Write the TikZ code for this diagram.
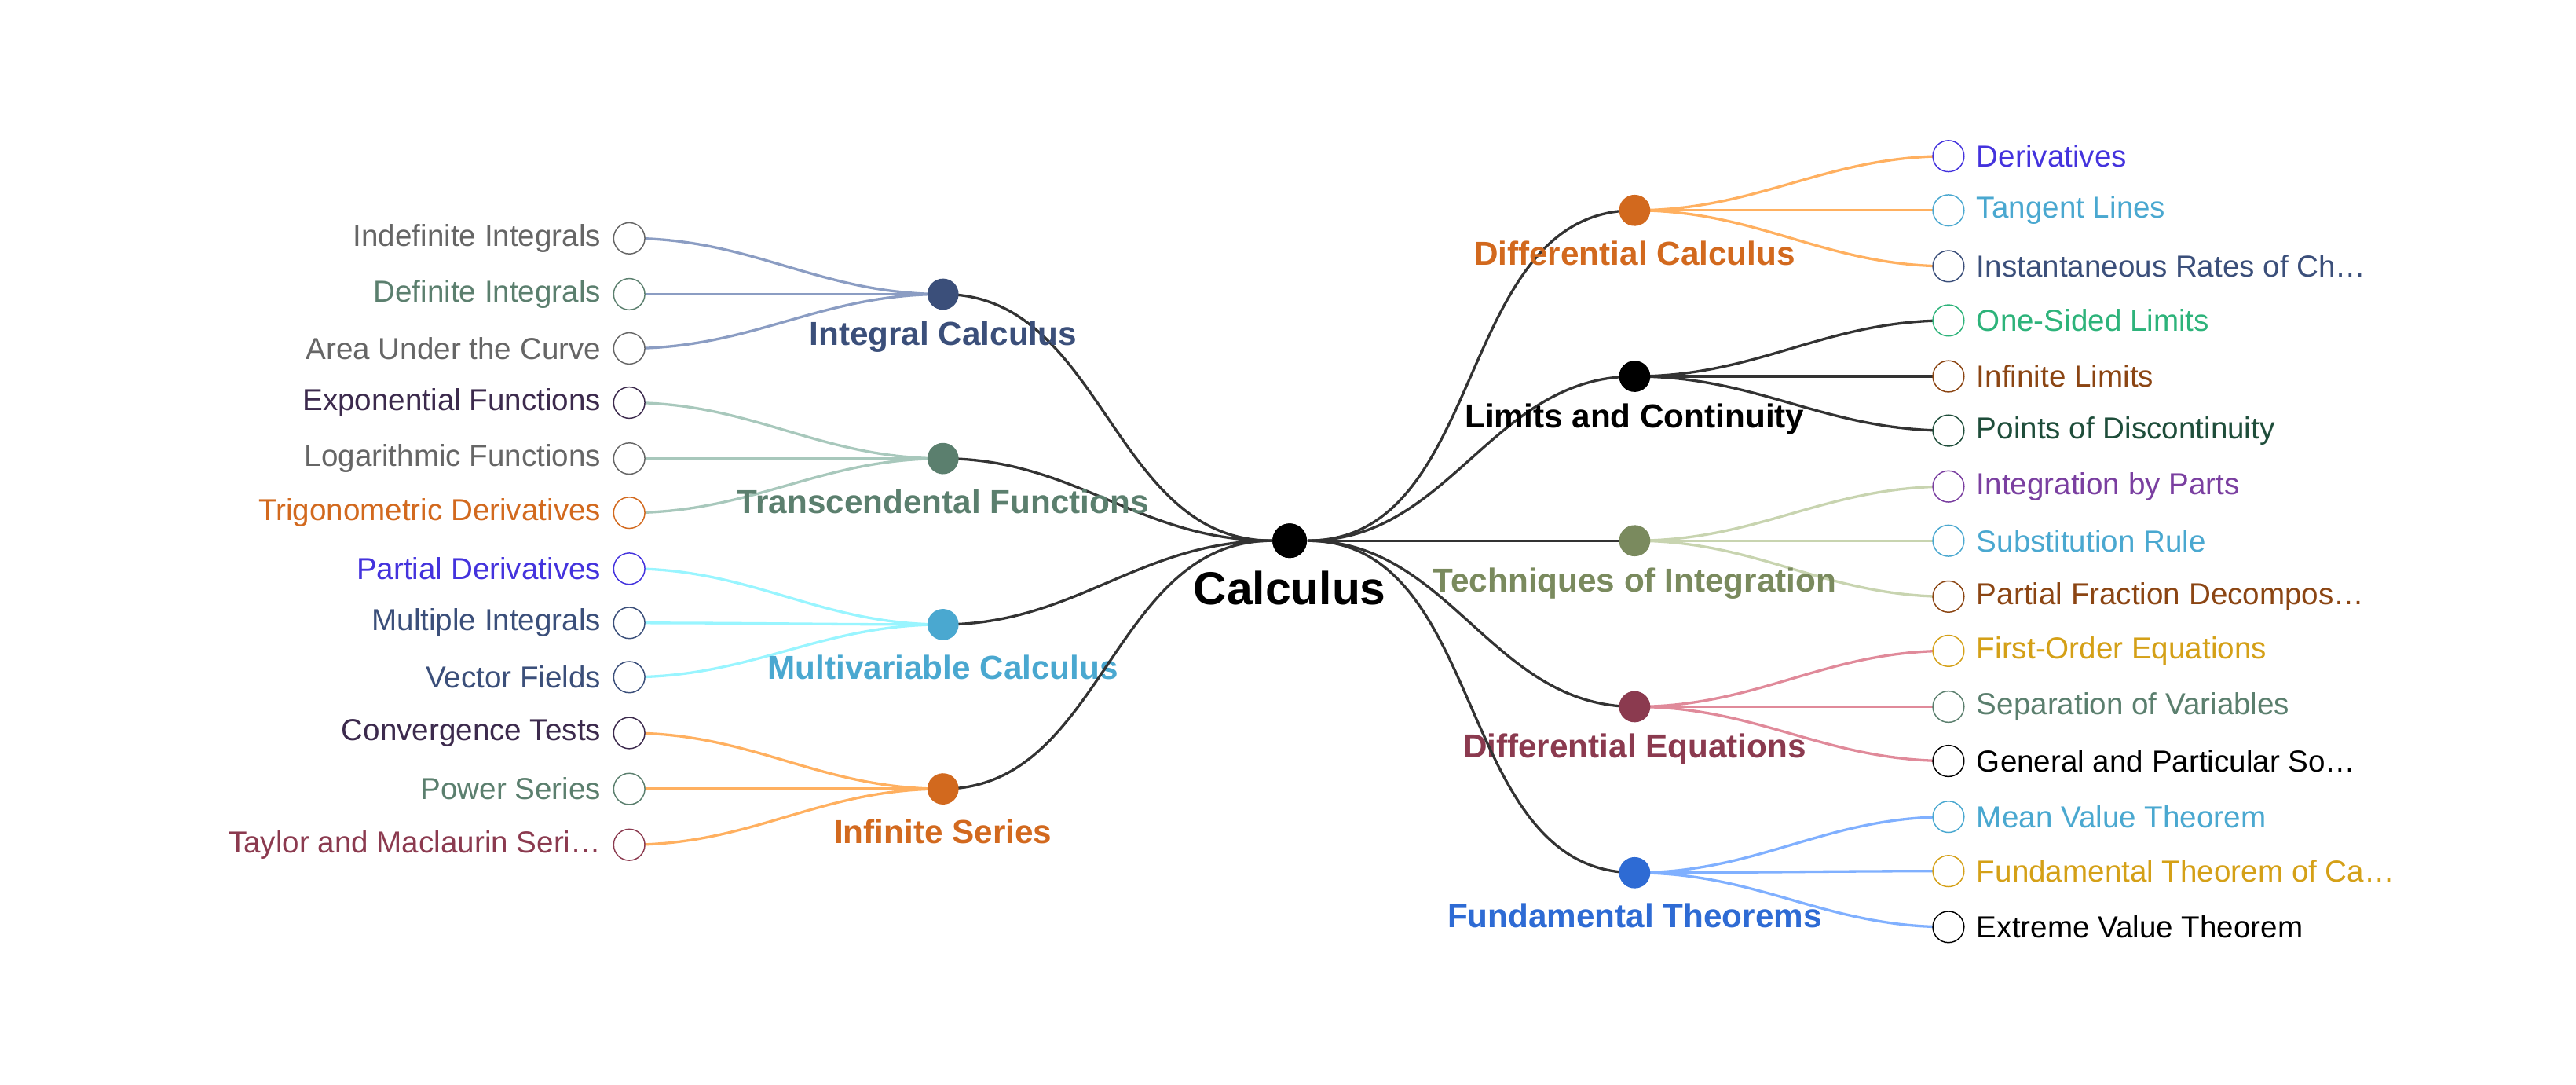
\documentclass[tikz,border=0pt]{standalone}
\usepackage{fontspec}
\setmainfont{Liberation Sans}
\usepackage{xcolor}
\usetikzlibrary{positioning}
\definecolor{cgray}{HTML}{666666}
\definecolor{cnavy}{HTML}{3B4F7A}
\definecolor{csage}{HTML}{5B7F6E}
\definecolor{cplum}{HTML}{3C2A4D}
\definecolor{corange}{HTML}{D2691E}
\definecolor{cindigo}{HTML}{4433DD}
\definecolor{csky}{HTML}{4AA8D0}
\definecolor{cwine}{HTML}{8B3A4F}
\definecolor{cgreen}{HTML}{2DB37A}
\definecolor{cbrown}{HTML}{8B4513}
\definecolor{cforest}{HTML}{1E4D3A}
\definecolor{colive}{HTML}{7A8A5E}
\definecolor{cpurple}{HTML}{7A3FA0}
\definecolor{cgold}{HTML}{D4A017}
\definecolor{cblue}{HTML}{2E6BD4}
\definecolor{eintegral}{HTML}{8B9DC3}
\definecolor{etrans}{HTML}{A8C8BC}
\definecolor{emulti}{HTML}{99F5FF}
\definecolor{eorange}{HTML}{FFB060}
\definecolor{edark}{HTML}{333333}
\definecolor{eolive}{HTML}{C8D4B0}
\definecolor{ewine}{HTML}{E08A9A}
\definecolor{eblue}{HTML}{80B0FF}

\begin{document}
\begin{tikzpicture}[
        x=0.02cm, y=-0.02cm,
        hub/.style={circle, inner sep=0pt, minimum size=0.38cm},
        leaf/.style={circle, draw, fill=white, inner sep=0pt, minimum size=0.38cm},
        branchlabel/.style={font=\bfseries\fontsize{11.5}{13}\selectfont},
        leaflabel/.style={font=\fontsize{10.5}{12}\selectfont, inner sep=2pt},
        link/.style={line width=0.9pt}
    ]
    \useasboundingbox (0,0) rectangle (1568,660);

    % root
    \node[hub, fill=black, minimum size=0.42cm] (root) at (785,329) {};
    \node[font=\bfseries\fontsize{16}{18}\selectfont] at (785,358) {Calculus};

    % left side
    \foreach \Hub/\Y/\Node/\Edge/\Text/\Leaves in {
        integral/179/cnavy/eintegral/Integral Calculus/{145/cgray/Indefinite Integrals, 179/csage/Definite Integrals, 212/cgray/Area Under the Curve},
        trans/279/csage/etrans/Transcendental Functions/{245/cplum/Exponential Functions, 279/cgray/Logarithmic Functions, 312/corange/Trigonometric Derivatives},
        multi/380/csky/emulti/Multivariable Calculus/{346/cindigo/Partial Derivatives, 379/cnavy/Multiple Integrals, 412/cnavy/Vector Fields},
        series/480/corange/eorange/Infinite Series/{446/cplum/Convergence Tests, 480/csage/Power Series, 514/cwine/Taylor and Maclaurin Seri…}}
    {
        \draw[link, edark] (root) to[out=180, in=0] (574,\Y);
        \foreach \Ly/\Col/\Lab in \Leaves {
            \draw[link, \Edge] (574,\Y) to[out=180, in=0] (383,\Ly);
            \node[leaf, draw=\Col] (\Hub-\Ly) at (383,\Ly) {};
            \node[leaflabel, text=\Col, left=2pt of \Hub-\Ly] {\Lab};
        }
        \node[hub, fill=\Node] (\Hub) at (574,\Y) {};
        \node[branchlabel, text=\Node] at (574,\Y+26) {\Text};
    }

    % right side
    \foreach \Hub/\Y/\Node/\Edge/\Text/\Leaves in {
        diffcalc/128/corange/eorange/Differential Calculus/{95/cindigo/Derivatives, 128/csky/Tangent Lines, 162/cnavy/Instantaneous Rates of Ch…},
        limits/229/black/edark/Limits and Continuity/{195/cgreen/One-Sided Limits, 229/cbrown/Infinite Limits, 262/cforest/Points of Discontinuity},
        techniques/329/colive/eolive/Techniques of Integration/{296/cpurple/Integration by Parts, 329/csky/Substitution Rule, 363/cbrown/Partial Fraction Decompos…},
        diffeq/430/cwine/ewine/Differential Equations/{396/cgold/First-Order Equations, 430/csage/Separation of Variables, 463/black/General and Particular So…},
        fundamental/531/cblue/eblue/Fundamental Theorems/{497/csky/Mean Value Theorem, 530/cgold/Fundamental Theorem of Ca…, 564/black/Extreme Value Theorem}}
    {
        \draw[link, edark] (root) to[out=0, in=180] (995,\Y);
        \foreach \Ly/\Col/\Lab in \Leaves {
            \draw[link, \Edge] (995,\Y) to[out=0, in=180] (1186,\Ly);
            \node[leaf, draw=\Col] (\Hub-\Ly) at (1186,\Ly) {};
            \node[leaflabel, text=\Col, right=2pt of \Hub-\Ly] {\Lab};
        }
        \node[hub, fill=\Node] (\Hub) at (995,\Y) {};
        \node[branchlabel, text=\Node] at (995,\Y+26) {\Text};
    }
    \node[hub, fill=black, minimum size=0.42cm] at (root) {};
\end{tikzpicture}
\end{document}
